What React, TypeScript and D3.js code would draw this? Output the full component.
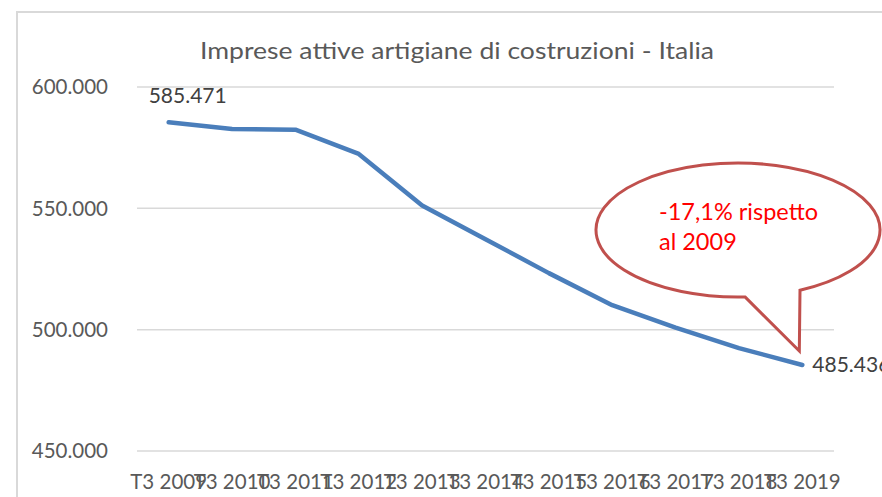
import React from "react";
import * as d3 from "d3";

const categories = ["T3 2009", "T3 2010", "T3 2011", "T3 2012", "T3 2013", "T3 2014", "T3 2015", "T3 2016", "T3 2017", "T3 2018", "T3 2019"];
const values = [585471, 582700, 582400, 572400, 551200, 537300, 523300, 510100, 500800, 492400, 485436];
const yTicks = [450000, 500000, 550000, 600000];
const title = "Imprese attive artigiane di costruzioni - Italia";
const calloutLines = ["-17,1% rispetto", "al 2009"];

const W = 882;
const H = 497;
const FONT = "Lato, 'Open Sans', sans-serif";

const locale = d3.formatLocale({ decimal: ",", thousands: ".", grouping: [3], currency: ["€", ""] });
const fmt = locale.format(",.0f");

export default function App() {
  const x = d3.scalePoint<string>().domain(categories).range([137, 834]).padding(0.5);
  const y = d3.scaleLinear().domain([450000, 600000]).range([451, 87]);
  const line = d3
    .line<number>()
    .x((_, i) => x(categories[i]) as number)
    .y((d) => y(d));

  const firstX = x(categories[0]) as number;
  const firstY = y(values[0]);
  const lastX = x(categories[categories.length - 1]) as number;
  const lastY = y(values[values.length - 1]);

  // callout geometry
  const cx = 738, cy = 230, rx = 142, ry = 67;
  const jx1 = 745, jx2 = 800;
  const jy1 = cy + ry * Math.sqrt(1 - ((jx1 - cx) / rx) ** 2);
  const jy2 = cy + ry * Math.sqrt(1 - ((jx2 - cx) / rx) ** 2);
  const tipX = lastX - 3, tipY = lastY - 14;
  const calloutPath = `M${jx1},${jy1} L${tipX},${tipY} L${jx2},${jy2} A${rx},${ry} 0 1 0 ${jx1},${jy1} Z`;

  return (
    <svg width={W} height={H} style={{ position: "absolute", left: 0, top: 0, background: "#fff" }} fontFamily={FONT}>
      <rect x={0} y={0} width={W} height={H} fill="#fff" />
      <rect x={17} y={12} width={W + 20} height={H + 20} fill="#fff" stroke="#D9D9D9" strokeWidth={2} />
      <text x={457} y={59} textAnchor="middle" fontSize={24} fill="#595959" textLength={514} lengthAdjust="spacingAndGlyphs">
        {title}
      </text>
      {yTicks.map((t) => (
        <g key={t}>
          <line x1={137} x2={834} y1={y(t)} y2={y(t)} stroke="#D9D9D9" strokeWidth={1.5} />
          <text x={108} y={y(t)} dy="0.35em" textAnchor="end" fontSize={20.5} fill="#595959">
            {fmt(t)}
          </text>
        </g>
      ))}
      {categories.map((c) => (
        <text key={c} x={x(c) as number} y={489} textAnchor="middle" fontSize={20.5} fill="#595959">
          {c}
        </text>
      ))}
      <path d={line(values) as string} fill="none" stroke="#4A7EBB" strokeWidth={4.5} strokeLinejoin="round" strokeLinecap="round" />
      <text x={firstX + 19} y={firstY - 19} textAnchor="middle" fontSize={21} fill="#404040">
        {fmt(values[0])}
      </text>
      <text x={lastX + 10} y={lastY} dy="0.35em" textAnchor="start" fontSize={21} fill="#404040">
        {fmt(values[values.length - 1])}
      </text>
      <path d={calloutPath} fill="#fff" stroke="#C0504D" strokeWidth={3} strokeLinejoin="miter" />
      {calloutLines.map((l, i) => (
        <text key={i} x={659} y={220 + i * 30} fontSize={23.5} fill="#FF0000">
          {l}
        </text>
      ))}
    </svg>
  );
}
